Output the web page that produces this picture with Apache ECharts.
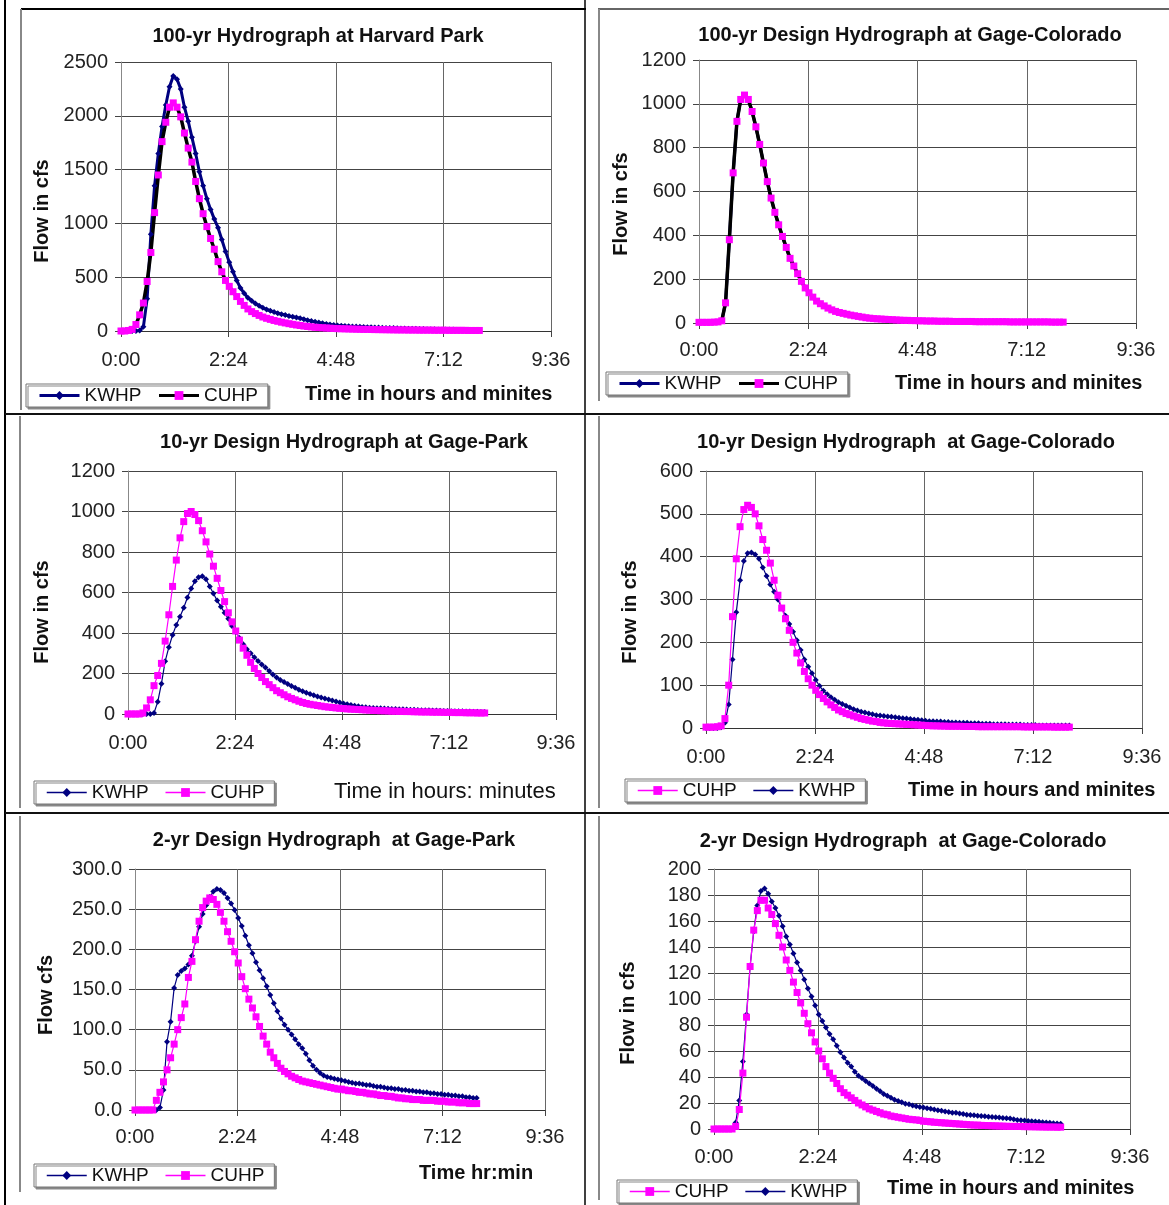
<!DOCTYPE html>
<html>
<head>
<meta charset="utf-8">
<script src="https://cdn.jsdelivr.net/npm/echarts@6/dist/echarts.min.js"></script>
<style>html,body{margin:0;padding:0;background:#fff}#main{width:1169px;height:1205px}</style>
</head>
<body>
<div id="main"></div>
<script>
// time in minutes, 5-min steps
var minutes = [0,5,10,15,20,25,30,35,40,45,50,55,60,65,70,75,80,85,90,95,100,105,110,115,120,125,130,135,140,145,150,155,160,165,170,175,180,185,190,195,200,205,210,215,220,225,230,235,240,245,250,255,260,265,270,275,280,285,290,295,300,305,310,315,320,325,330,335,340,345,350,355,360,365,370,375,380,385,390,395,400,405,410,415,420,425,430,435,440,445,450,455,460,465,470,475,480];
var timeTicks = ['0:00','2:24','4:48','7:12','9:36'];

// 100-yr Harvard Park
var kw1 = [0,0,0,0,0,5,40,300,900,1350,
  1650,1900,2100,2270,2370,2340,2250,2080,1950,1800,
  1650,1480,1350,1230,1130,1040,960,850,740,640,
  550,470,400,350,310,280,255,235,215,200,
  188,176,165,156,148,140,133,125,118,109,
  100,92,85,78,72,66,60,56,52,49,
  46,44,42,41,40,38,36,35,33,32,
  30,29,28,27,25,24,23,22,21,20,
  19,18,17,17,16,15,15,14,13,13,
  12,12,11,11,10,10,9];
var cu1 = [0,0,5,15,60,150,260,460,730,1100,
  1450,1760,1940,2080,2120,2080,1990,1840,1700,1570,
  1390,1230,1090,970,860,760,645,550,470,415,
  365,320,275,238,205,180,162,145,130,118,
  108,98,90,82,75,68,62,56,51,46,
  42,38,35,32,30,28,26,24,22,21,
  20,19,18,17,16,15,15,14,13,13,
  12,12,11,11,10,10,10,9,9,9,
  8,8,8,8,7,7,7,7,6,6,
  6,6,6,5,5,5,5];

// 100-yr Gage-Colorado
var kw2 = [3,3,3,3,4,5,10,92,380,685,
  920,1020,1040,1020,965,895,815,730,645,570,
  505,448,395,345,295,260,225,190,160,138,
  118,100,88,78,68,60,53,48,44,40,
  36,33,30,27,24,22,20,19,18,17,
  16,15,14,13,12,12,11,11,10,10,
  9,9,9,8,8,8,8,7,7,7,
  7,7,7,6,6,6,6,6,6,6,
  6,6,5,5,5,5,5,5,5,5,
  5,5,5,4,4,4,4];
var cu2 = [3,3,3,3,4,5,10,92,380,685,
  920,1020,1040,1020,965,895,815,730,645,570,
  505,448,395,345,295,260,225,190,160,138,
  118,100,88,78,68,60,53,48,44,40,
  36,33,30,27,24,22,20,19,18,17,
  16,15,14,13,12,12,11,11,10,10,
  9,9,9,8,8,8,8,7,7,7,
  7,7,7,6,6,6,6,6,6,6,
  6,6,5,5,5,5,5,5,5,5,
  5,5,5,4,4,4,4];

// 10-yr Gage-Park
var kw3 = [0,0,0,0,0,0,0,5,60,150,
  260,330,390,440,480,525,575,620,655,675,
  680,665,630,595,560,530,500,470,435,405,
  375,345,320,300,280,262,245,230,212,195,
  180,168,158,148,138,130,120,112,105,99,
  93,87,82,77,72,67,62,57,52,48,
  44,41,38,35,33,31,30,29,28,27,
  26,25,25,24,23,22,21,21,20,19,
  19,18,17,17,16,15,15,14,14,13,
  13,12,12,11,11,10,10];
var cu3 = [0,0,0,0,5,30,70,140,190,250,
  360,490,630,760,870,950,990,1000,985,955,
  905,850,790,730,670,610,555,500,455,410,
  365,325,290,255,225,200,180,160,145,130,
  115,105,95,85,77,70,63,57,52,48,
  45,42,39,36,34,32,30,28,27,25,
  24,23,22,21,20,19,18,17,16,16,
  15,14,14,13,13,12,12,11,11,10,
  10,10,9,9,9,8,8,8,7,7,
  7,6,6,6,5,5,5];

// 10-yr Gage-Colorado
var cu4 = [2,2,2,3,5,22,100,260,395,470,
  510,520,515,500,472,440,415,385,345,310,
  280,255,228,200,175,152,132,115,100,88,
  78,69,61,54,48,42,38,34,31,28,
  25,22,20,18,16,15,13,12,11,10.5,
  10,9.5,9,8.5,8,7.5,7,6.5,6,5.5,
  5,5,4.5,4.5,4,4,4,4,3.5,3.5,
  3.5,3.5,3,3,3,3,3,3,3,3,
  3,3,3,3,2.5,2.5,2.5,2.5,2.5,2.5,
  2.5,2.5,2,2,2,2,2];
var kw4 = [0,0,0,0,2,12,55,160,270,345,
  390,408,410,405,395,375,355,335,318,300,
  280,262,243,225,205,182,160,143,128,112,
  98,87,79,72,66,60,56,52,48,44,
  41,38,36,34,32,30,29,28,27,26,
  25,24,23,22,21,20,19,18,17,16,
  16,15,15,14,14,13,13,12,12,12,
  11,11,11,10,10,10,9,9,9,9,
  8,8,8,8,7,7,7,7,6,6,
  6,6,6,6,6,6,6];

// 2-yr Gage-Park
var kw5 = [0,0,0,0,0,0,0,3,25,85,
  110,152,168,173,176,181,192,210,228,244,
  255,265,272,275,274,270,264,257,249,239,
  229,217,205,195,184,174,164,154,143,133,
  123,114,106,100,94,88,82,77,70,62,
  55,50,46,43,41,40,39,38,37,36,
  35,34,33,33,32,31,31,30,29,29,
  28,27,27,26,26,25,25,24,24,23,
  23,22,22,21,21,20,20,19,19,18,
  18,17,17,16,16,15,15];
var cu5 = [0,0,0,0,0,0,12,22,35,50,
  65,82,100,115,132,165,185,212,235,252,
  260,264,262,256,246,235,222,210,197,183,
  166,151,138,127,116,104,92,82,72,65,
  58,52,48,45,42,40,38,36,35,34,
  33,32,31,30,29,28,27,26,26,25,
  24,24,23,22,22,21,20,20,19,18,
  18,17,17,16,15,15,14,14,13,13,
  13,12,12,12,12,11,11,11,10,10,
  10,9,9,9,8,8,8];

// 2-yr Gage-Colorado
var cu6 = [0,0,0,0,0,0,2,15,43,86,
  125,153,168,176,176,170,165,158,149,140,
  130,122,113,105,97,89,81,74,67,60,
  54,48,43,39,35,31,28,26,24,22,
  20,18.5,17,15.5,14.5,13.5,12.5,11.5,11,10,
  9.5,9,8.5,8,7.5,7.2,7,6.6,6,5.8,
  5.5,5.2,5,4.8,4.6,4.4,4.2,4,3.8,3.6,
  3.4,3.2,3,3,2.8,2.7,2.6,2.5,2.4,2.3,
  2.2,2.1,2,2,2,1.9,1.8,1.8,1.7,1.7,
  1.6,1.6,1.5,1.5,1.5,1.4,1.4];
var kw6 = [0,0,0,0,0,0,5,22,52,88,
  125,152,172,183,185,181,175,170,164,156,
  148,142,135,128,122,115,108,102,95,88,
  83,78,73,69,64,59,55,51,48,44,
  41,39,37,35,33,31,29,27,25.5,24,
  22.5,21.5,20.5,19.5,19,18,17.5,17,16.5,16,
  15.5,15,14.5,14,13.5,13,12.5,12.5,12,11.5,
  11,10.8,10.5,10.2,10,9.8,9.5,9.2,9,8.8,
  8.5,8.2,8,7.5,7,6.8,6.5,6.2,6,5.8,
  5.5,5.2,5,4.8,4.5,4.2,4];

var titles = ['100-yr Hydrograph at Harvard Park','100-yr Design Hydrograph at Gage-Colorado',
  '10-yr Design Hydrograph at Gage-Park','10-yr Design Hydrograph  at Gage-Colorado',
  '2-yr Design Hydrograph  at Gage-Park','2-yr Design Hydrograph  at Gage-Colorado'];
var yNames = ['Flow in cfs','Flow in cfs','Flow in cfs','Flow in cfs','Flow cfs','Flow in cfs'];
var xNames = ['Time in hours and minites','Time in hours and minites','Time in hours: minutes',
  'Time in hours and minites','Time hr:min','Time in hours and minites'];
var yMax = [2500,1200,1200,600,300,200];
var yStep = [500,200,200,100,50,20];

var FONT = '"Liberation Sans", Arial, sans-serif';
var NAVY = '#000080', PINK = '#ff00ff';

// layout of each panel
var panels = [
  {grid:[121,62,430,269], t:[318,37], yn:[42,211], xn:[305,394,'bold'], lg:[26,384], xm:19, lw:3},
  {grid:[699,60,437,263], t:[910,36], yn:[621,204], xn:[895,383,'bold'], lg:[606,372], xm:17, lw:3},
  {grid:[128,471,428,243], t:[344,443], yn:[42,612], xn:[334,792,'normal'], lg:[34,781], xm:19, lw:1.5},
  {grid:[706,471,436,257], t:[906,443], yn:[630,612], xn:[908,790,'bold'], lg:[625,779], xm:19, lw:1.5},
  {grid:[135,869,410,241], t:[334,841], yn:[46,995], xn:[419,1173,'bold'], lg:[34,1164], xm:17, lw:1.5},
  {grid:[714,869,416,260], t:[903,842], yn:[628,1013], xn:[887,1188,'bold'], lg:[617,1180], xm:18, lw:1.5}
];

var seriesDefs = [
  {name:'KWHP_1', p:0, d:kw1, c:NAVY, lc:NAVY, w:3, s:'diamond', z:6},
  {name:'CUHP_1', p:0, d:cu1, c:PINK, lc:'#000', w:3.5, s:'rect', z:6},
  {name:'KWHP_2', p:1, d:kw2, c:NAVY, lc:NAVY, w:3, s:'diamond', z:6},
  {name:'CUHP_2', p:1, d:cu2, c:PINK, lc:'#000', w:3.5, s:'rect', z:6},
  {name:'KWHP_3', p:2, d:kw3, c:NAVY, lc:NAVY, w:1.2, s:'diamond', z:6},
  {name:'CUHP_3', p:2, d:cu3, c:PINK, lc:PINK, w:1.2, s:'rect', z:7},
  {name:'CUHP_4', p:3, d:cu4, c:PINK, lc:PINK, w:1.2, s:'rect', z:7},
  {name:'KWHP_4', p:3, d:kw4, c:NAVY, lc:NAVY, w:1.2, s:'diamond', z:6},
  {name:'KWHP_5', p:4, d:kw5, c:NAVY, lc:NAVY, w:1.2, s:'diamond', z:6},
  {name:'CUHP_5', p:4, d:cu5, c:PINK, lc:PINK, w:1.2, s:'rect', z:7},
  {name:'CUHP_6', p:5, d:cu6, c:PINK, lc:PINK, w:1.2, s:'rect', z:7},
  {name:'KWHP_6', p:5, d:kw6, c:NAVY, lc:NAVY, w:1.2, s:'diamond', z:6}
];

function fmtTime(v){ return timeTicks[Math.round(v/144)]; }

var grids=[], xAxes=[], yAxes=[], titleOpts=[], legends=[], series=[], graphics=[];

panels.forEach(function(p, i){
  grids.push({left:p.grid[0], top:p.grid[1], width:p.grid[2], height:p.grid[3]});
  titleOpts.push({text:titles[i], left:p.t[0], top:p.t[1]-11, textAlign:'center', padding:0,
    textStyle:{fontFamily:FONT, fontSize:20, fontWeight:'bold', color:'#111'}});
  xAxes.push({type:'value', gridIndex:i, min:0, max:576, interval:144,
    axisLine:{show:true, onZero:false, lineStyle:{color:'#333'}},
    axisTick:{show:true, length:6, lineStyle:{color:'#444'}},
    axisLabel:{margin:p.xm, fontFamily:FONT, fontSize:20, color:'#222', formatter:fmtTime},
    splitLine:{show:true, lineStyle:{color:'#666', width:1}}});
  yAxes.push({type:'value', gridIndex:i, min:0, max:yMax[i], interval:yStep[i],
    axisLine:{show:true, lineStyle:{color:'#888'}},
    axisTick:{show:true, length:6, lineStyle:{color:'#444'}},
    axisLabel:{margin:13, fontFamily:FONT, fontSize:20, color:'#222',
      formatter: i===4 ? function(v){return v.toFixed(1);} : function(v){return String(v);}},
    splitLine:{show:true, lineStyle:{color:'#444', width:1}}});
  graphics.push({type:'text', x:p.yn[0], y:p.yn[1], rotation:Math.PI/2,
    style:{text:yNames[i], fill:'#111', font:'bold 20px ' + FONT, textAlign:'center', textVerticalAlign:'middle'}});
  graphics.push({type:'text', x:p.xn[0], y:p.xn[1],
    style:{text:xNames[i], fill:'#111', font:p.xn[2] + ' ' + (p.xn[2]==='bold'?20:22) + 'px ' + FONT, textAlign:'left', textVerticalAlign:'middle'}});
  var names = seriesDefs.filter(function(s){return s.p===i;}).map(function(s){return s.name;});
  legends.push({data:names, left:p.lg[0], top:p.lg[1], orient:'horizontal',
    padding:[2,10,2,12], itemGap:16, itemWidth:40, itemHeight:11,
    borderColor:'#777', borderWidth:1, backgroundColor:'#fff',
    shadowColor:'#888', shadowOffsetX:2, shadowOffsetY:2, shadowBlur:0,
    selectedMode:false,
    lineStyle:{width:p.lw},
    textStyle:{fontFamily:FONT, fontSize:19, color:'#111'},
    formatter:function(n){return n.split('_')[0];}});
});

seriesDefs.forEach(function(s){
  series.push({name:s.name, type:'line', xAxisIndex:s.p, yAxisIndex:s.p, z:s.z,
    symbol:s.s, symbolSize: s.s==='rect' ? 7 : 6, showAllSymbol:true,
    itemStyle:{color:s.c}, lineStyle:{color:s.lc, width:s.w},
    emphasis:{disabled:true},
    data:s.d.map(function(v, k){return [minutes[k], v];})});
});

// table rules and chart frames
var rules = [
  [5,0,5,1205,'#000',2],[585,0,585,1205,'#000',1.5],
  [5,414,1169,414,'#111',2],[5,813,1169,813,'#111',2],
  [21,9,586,9,'#000',2],[598,9,1169,9,'#666',2],
  [21,9,21,410,'#888',2],[599,9,599,401,'#888',2],
  [20,416,20,808,'#888',2],[599,416,599,808,'#888',2],
  [20,816,20,1192,'#888',2],[599,816,599,1200,'#888',2]
];
rules.forEach(function(r){
  graphics.push({type:'line', shape:{x1:r[0],y1:r[1],x2:r[2],y2:r[3]}, style:{stroke:r[4], lineWidth:r[5]}, silent:true});
});

var chart = echarts.init(document.getElementById('main'));
chart.setOption({
  animation:false,
  backgroundColor:'#fff',
  title:titleOpts,
  legend:legends,
  grid:grids,
  xAxis:xAxes,
  yAxis:yAxes,
  graphic:graphics,
  series:series
});
</script>
</body>
</html>
